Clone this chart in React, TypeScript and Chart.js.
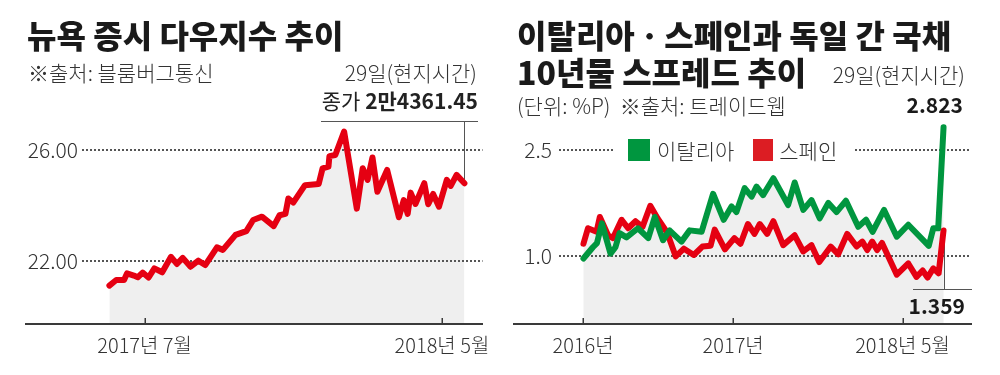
import React, { useEffect, useRef } from "react";
import { Chart, registerables } from "chart.js";

Chart.register(...registerables);

// ---- Dow Jones (days since 2017-07-01, index points) ----
const DOW_DAYS = [-36, -29, -21, -18, -11, -7, -2, 4, 10, 18, 27, 33, 39, 47, 55, 62, 74, 80, 93, 104, 111, 120, 132, 138, 144, 147, 152, 164, 178, 182, 188, 189, 195, 204, 217, 223, 228, 233, 238, 248, 260, 265, 269, 272, 277, 286, 290, 295, 301, 309, 313, 319, 327];
const DOW_VALUES = [21100, 21300, 21300, 21540, 21460, 21400, 21570, 21390, 21720, 21580, 22140, 21880, 22100, 21780, 22000, 21840, 22480, 22390, 22930, 23070, 23470, 23590, 23250, 23640, 23690, 24250, 24100, 24730, 24770, 25340, 25400, 25780, 25820, 26670, 23880, 25340, 24920, 25730, 24490, 25280, 23570, 24190, 23690, 24460, 24050, 24800, 24040, 24410, 23950, 24920, 24700, 25100, 24800];
const DOW_X_TICKS = [0, 304];
const DOW_X_LABELS = ["2017년 7월", "2018년 5월"];
const DOW_Y_TICKS = [22000, 26000];

// ---- 10y spread vs Germany (days since 2016-01-01, %P) ----
const SPREAD_X_TICKS = [0, 366, 779];
const SPREAD_X_LABELS = ["2016년", "2017년", "2018년 5월"];
const SPREAD_Y_TICKS = [1.0, 2.5];
const ITALY_DAYS = [1, 24, 34, 46, 67, 79, 89, 106, 134, 159, 175, 195, 211, 240, 260, 289, 317, 343, 362, 374, 394, 411, 423, 439, 464, 500, 516, 537, 557, 577, 598, 618, 641, 671, 690, 706, 734, 765, 793, 843, 854, 866, 879];
const ITALY_VALUES = [0.96, 1.12, 1.18, 1.46, 1.03, 1.12, 1.32, 1.26, 1.39, 1.25, 1.55, 1.22, 1.36, 1.2, 1.36, 1.34, 1.88, 1.51, 1.7, 1.62, 1.96, 1.84, 1.98, 1.86, 2.1, 1.72, 2.04, 1.65, 1.79, 1.53, 1.75, 1.62, 1.78, 1.41, 1.51, 1.34, 1.65, 1.27, 1.44, 1.14, 1.39, 1.39, 2.823];
const SPAIN_DAYS = [1, 12, 33, 41, 61, 73, 94, 110, 128, 145, 164, 182, 205, 226, 246, 270, 291, 311, 321, 346, 369, 384, 402, 418, 431, 449, 464, 488, 516, 537, 557, 576, 604, 622, 644, 667, 681, 693, 705, 717, 729, 765, 793, 813, 828, 840, 854, 867, 879];
const SPAIN_VALUES = [1.17, 1.39, 1.34, 1.55, 1.29, 1.25, 1.51, 1.39, 1.49, 1.41, 1.71, 1.53, 1.33, 0.99, 1.1, 1.01, 1.13, 1.14, 1.37, 1.09, 1.25, 1.17, 1.45, 1.31, 1.45, 1.31, 1.49, 1.15, 1.29, 1.06, 1.15, 0.91, 1.13, 1.02, 1.31, 1.13, 1.2, 1.08, 1.2, 1.08, 1.18, 0.73, 0.89, 0.7, 0.79, 0.69, 0.82, 0.75, 1.359];
const SERIES_NAMES = ["이탈리아", "스페인"];

const RED = "#e50012";
const GREEN = "#00963f";
const FILL = "#efefef";
const INK = "#2b2b2b";
const FONT = "'Noto Sans CJK KR', 'Noto Sans', sans-serif";

const zip = (xs: number[], ys: number[]) => xs.map((x, i) => ({ x, y: ys[i] }));

function makeOptions(cfg: {
  xMin: number; xMax: number; yMin: number; yMax: number;
  xTicks: number[]; xLabels: string[]; yTicks: number[];
  yFmt: (v: number) => string; yWidth: number; yPad: number; padRight: number;
}) {
  return {
    responsive: false,
    animation: false as const,
    devicePixelRatio: 1,
    layout: { padding: { top: 118, right: cfg.padRight, left: 0, bottom: 0 } },
    plugins: {
      legend: { display: false },
      tooltip: { enabled: false },
      filler: { drawTime: "beforeDraw" as const },
    },
    elements: { point: { radius: 0 }, line: { tension: 0 } },
    scales: {
      x: {
        type: "linear" as const,
        min: cfg.xMin,
        max: cfg.xMax,
        afterBuildTicks: (s: any) => { s.ticks = cfg.xTicks.map((v) => ({ value: v })); },
        afterFit: (s: any) => { s.height = 51; },
        grid: { display: false, drawTicks: false },
        border: { display: false },
        ticks: {
          autoSkip: false,
          maxRotation: 0,
          padding: 9,
          color: "#333",
          font: { family: FONT, size: 20, weight: 300 },
          callback: (_v: any, i: number) => cfg.xLabels[i],
        },
      },
      y: {
        type: "linear" as const,
        min: cfg.yMin,
        max: cfg.yMax,
        afterBuildTicks: (s: any) => { s.ticks = cfg.yTicks.map((v) => ({ value: v })); },
        afterFit: (s: any) => { s.width = cfg.yWidth; },
        grid: { drawTicks: false, color: "#555", lineWidth: 2 },
        border: { display: false, dash: [2, 2] },
        ticks: {
          padding: cfg.yPad,
          color: "#333",
          font: { family: FONT, size: 21, weight: 300 },
          callback: (v: any) => cfg.yFmt(Number(v)),
        },
      },
    },
  };
}

function framePlugin(axisX0: number, axisX1: number, annotate: (chart: any, ctx: CanvasRenderingContext2D) => void) {
  return {
    id: "frame",
    beforeDatasetsDraw(chart: any) {
      const ctx = chart.ctx as CanvasRenderingContext2D;
      ctx.save();
      annotate(chart, ctx);
      ctx.restore();
    },
    afterDraw(chart: any) {
      const { ctx, chartArea, scales } = chart;
      ctx.save();
      ctx.strokeStyle = "#3a3a3a";
      ctx.lineWidth = 2;
      ctx.beginPath();
      ctx.moveTo(axisX0, chartArea.bottom);
      ctx.lineTo(axisX1, chartArea.bottom);
      ctx.stroke();
      ctx.lineWidth = 1.5;
      ctx.beginPath();
      scales.x.ticks.forEach((t: any) => {
        const px = Math.round(scales.x.getPixelForValue(t.value)) + 0.25;
        ctx.moveTo(px, chartArea.bottom - 6);
        ctx.lineTo(px, chartArea.bottom);
      });
      ctx.stroke();
      ctx.restore();
    },
  };
}

export default function App() {
  const leftRef = useRef<HTMLCanvasElement>(null);
  const rightRef = useRef<HTMLCanvasElement>(null);

  useEffect(() => {
    const lineStyle = { borderWidth: 6, borderJoinStyle: "round" as const, borderCapStyle: "round" as const, pointRadius: 0 };
    const c1 = new Chart(leftRef.current!, {
      type: "line",
      data: {
        datasets: [
          { data: zip(DOW_DAYS, DOW_VALUES), borderColor: RED, backgroundColor: FILL, fill: "start", ...lineStyle },
        ],
      },
      options: makeOptions({
        xMin: -64, xMax: 345.5, yMin: 19710, yMax: 27157,
        xTicks: DOW_X_TICKS, xLabels: DOW_X_LABELS, yTicks: DOW_Y_TICKS,
        yFmt: (v) => (v / 1000).toFixed(2), yWidth: 82, yPad: 4, padRight: 17,
      }) as any,
      plugins: [
        framePlugin(25, 483, (chart, ctx) => {
          const meta = chart.getDatasetMeta(0);
          const p = meta.data[meta.data.length - 1];
          ctx.strokeStyle = "#555";
          ctx.lineWidth = 1;
          const x = Math.round(p.x) + 0.5;
          ctx.beginPath();
          ctx.moveTo(x, p.y);
          ctx.lineTo(x, 121.5);
          ctx.moveTo(321, 121.5);
          ctx.lineTo(478, 121.5);
          ctx.stroke();
        }),
      ],
    });
    const c2 = new Chart(rightRef.current!, {
      type: "line",
      data: {
        datasets: [
          { label: SERIES_NAMES[0], data: zip(ITALY_DAYS, ITALY_VALUES), borderColor: GREEN, backgroundColor: FILL, fill: "start", ...lineStyle },
          { label: SERIES_NAMES[1], data: zip(SPAIN_DAYS, SPAIN_VALUES), borderColor: RED, backgroundColor: FILL, fill: "start", ...lineStyle },
        ],
      },
      options: makeOptions({
        xMin: -58.6, xMax: 943.5, yMin: 0.03, yMax: 2.956,
        xTicks: SPREAD_X_TICKS, xLabels: SPREAD_X_LABELS, yTicks: SPREAD_Y_TICKS,
        yFmt: (v) => v.toFixed(1), yWidth: 59, yPad: 7, padRight: 30,
      }) as any,
      plugins: [
        framePlugin(13, 472, (chart, ctx) => {
          const meta = chart.getDatasetMeta(1);
          const p = meta.data[meta.data.length - 1];
          ctx.strokeStyle = "#555";
          ctx.lineWidth = 1;
          const x = Math.round(p.x) + 0.5;
          ctx.beginPath();
          ctx.moveTo(x, p.y);
          ctx.lineTo(x, 289.5);
          ctx.moveTo(413, 289.5);
          ctx.lineTo(472, 289.5);
          ctx.stroke();
        }),
      ],
    });
    return () => {
      c1.destroy();
      c2.destroy();
    };
  }, []);

  const t = (s: React.CSSProperties): React.CSSProperties => ({
    position: "absolute", whiteSpace: "pre", lineHeight: 1, fontFamily: FONT, color: INK, ...s,
  });
  const title: React.CSSProperties = { fontSize: 32, fontWeight: 900, color: "#1a1a1a" };
  const sub: React.CSSProperties = { fontSize: 21, fontWeight: 300, color: "#333" };

  return (
    <div style={{ position: "absolute", left: 0, top: 0, width: 1000, height: 375, background: "#fff", overflow: "hidden" }}>
      <canvas ref={leftRef} width={500} height={375} style={{ position: "absolute", left: 0, top: 0 }} />
      <canvas ref={rightRef} width={500} height={375} style={{ position: "absolute", left: 500, top: 0 }} />

      {/* left texts */}
      <div style={t({ left: 27, top: 18, ...title })}>뉴욕 증시 다우지수 추이</div>
      <div style={t({ left: 28, top: 62, ...sub })}>※출처: 블룸버그통신</div>
      <div style={t({ right: 523, top: 62, ...sub })}>29일(현지시간)</div>
      <div style={t({ right: 522, top: 90, ...sub, fontWeight: 400, color: "#222" })}>
        종가 <b style={{ fontWeight: 700 }}>2만4361.45</b>
      </div>

      {/* right texts */}
      <div style={t({ left: 517, top: 18, ...title })}>이탈리아ㆍ스페인과 독일 간 국채</div>
      <div style={t({ left: 517, top: 55, ...title })}>10년물 스프레드 추이</div>
      <div style={t({ left: 517, top: 95, ...sub })}>(단위: %P)  ※출처: 트레이드웹</div>
      <div style={t({ right: 35, top: 64, ...sub })}>29일(현지시간)</div>
      <div style={t({ right: 37, top: 94, fontSize: 21, fontWeight: 700, color: "#1a1a1a" })}>2.823</div>
      <div style={t({ right: 35, top: 295, fontSize: 21, fontWeight: 700, color: "#1a1a1a" })}>1.359</div>

      {/* legend */}
      <div style={{ position: "absolute", left: 613, top: 137, width: 240, height: 26, background: "#fff", display: "flex", alignItems: "center" }}>
        <span style={{ display: "inline-block", width: 22, height: 22, background: GREEN, marginLeft: 15, marginRight: 7 }} />
        <span style={{ fontFamily: FONT, fontSize: 21, fontWeight: 300, color: "#333", lineHeight: 1 }}>{SERIES_NAMES[0]}</span>
        <span style={{ display: "inline-block", width: 20, height: 22, background: "#dc1d23", marginLeft: 19, marginRight: 6 }} />
        <span style={{ fontFamily: FONT, fontSize: 21, fontWeight: 300, color: "#333", lineHeight: 1 }}>{SERIES_NAMES[1]}</span>
      </div>
    </div>
  );
}
